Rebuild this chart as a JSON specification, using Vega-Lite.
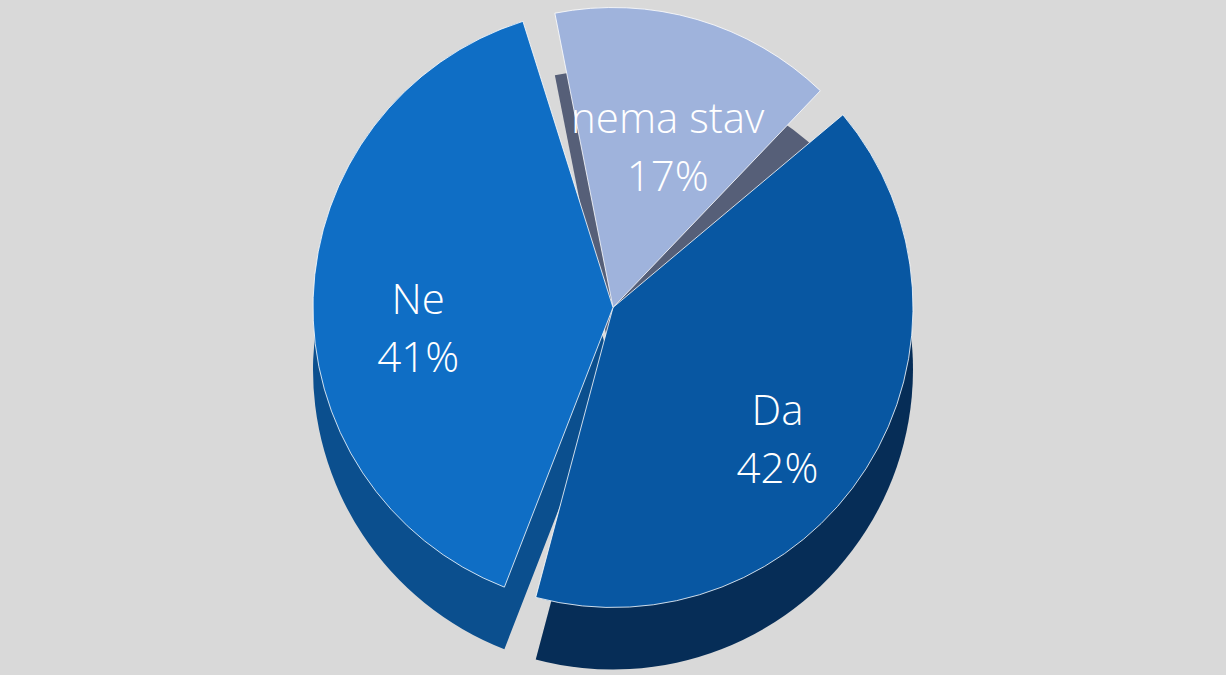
{
  "$schema": "https://vega.github.io/schema/vega-lite/v6.json",
  "autosize": {"type": "fit", "contains": "padding"},
  "width": 1226,
  "height": 675,
  "padding": 0,
  "background": "#d9d9d9",
  "config": {"view": {"stroke": null}},
  "data": {
    "values": [
      {"category": "nema stav", "value": 17, "rank": 1, "label": "nema stav\n17%"},
      {"category": "Da", "value": 42, "rank": 2, "label": "Da\n42%"},
      {"category": "Ne", "value": 41, "rank": 3, "label": "Ne\n41%"}
    ]
  },
  "encoding": {
    "theta": {"field": "value", "type": "quantitative", "stack": true, "scale": {"range": [-0.25, 6.0332]}},
    "order": {"field": "rank", "type": "quantitative"}
  },
  "layer": [
    {
      "mark": {"type": "arc", "outerRadius": 300, "padAngle": 0.11, "yOffset": 32, "strokeWidth": 0},
      "encoding": {
        "color": {"field": "category", "type": "nominal", "legend": null,
          "scale": {"domain": ["nema stav", "Da", "Ne"], "range": ["#565f78", "#062d57", "#0b4f8e"]}}
      }
    },
    {
      "mark": {"type": "arc", "outerRadius": 300, "padAngle": 0.11, "yOffset": -30, "stroke": "#ffffff", "strokeWidth": 0.8},
      "encoding": {
        "color": {"field": "category", "type": "nominal", "legend": null,
          "scale": {"domain": ["nema stav", "Da", "Ne"], "range": ["#9fb3dc", "#0857a2", "#0f6ec5"]}}
      }
    },
    {
      "mark": {"type": "text", "radius": 195, "yOffset": -30, "fontSize": 42, "font": "Open Sans", "fontWeight": 300, "color": "#ffffff", "lineBreak": "\n", "lineHeight": 58, "align": "center", "baseline": "middle"},
      "encoding": {
        "text": {"field": "label", "type": "nominal"}
      }
    }
  ],
  "resolve": {"scale": {"color": "independent"}}
}
